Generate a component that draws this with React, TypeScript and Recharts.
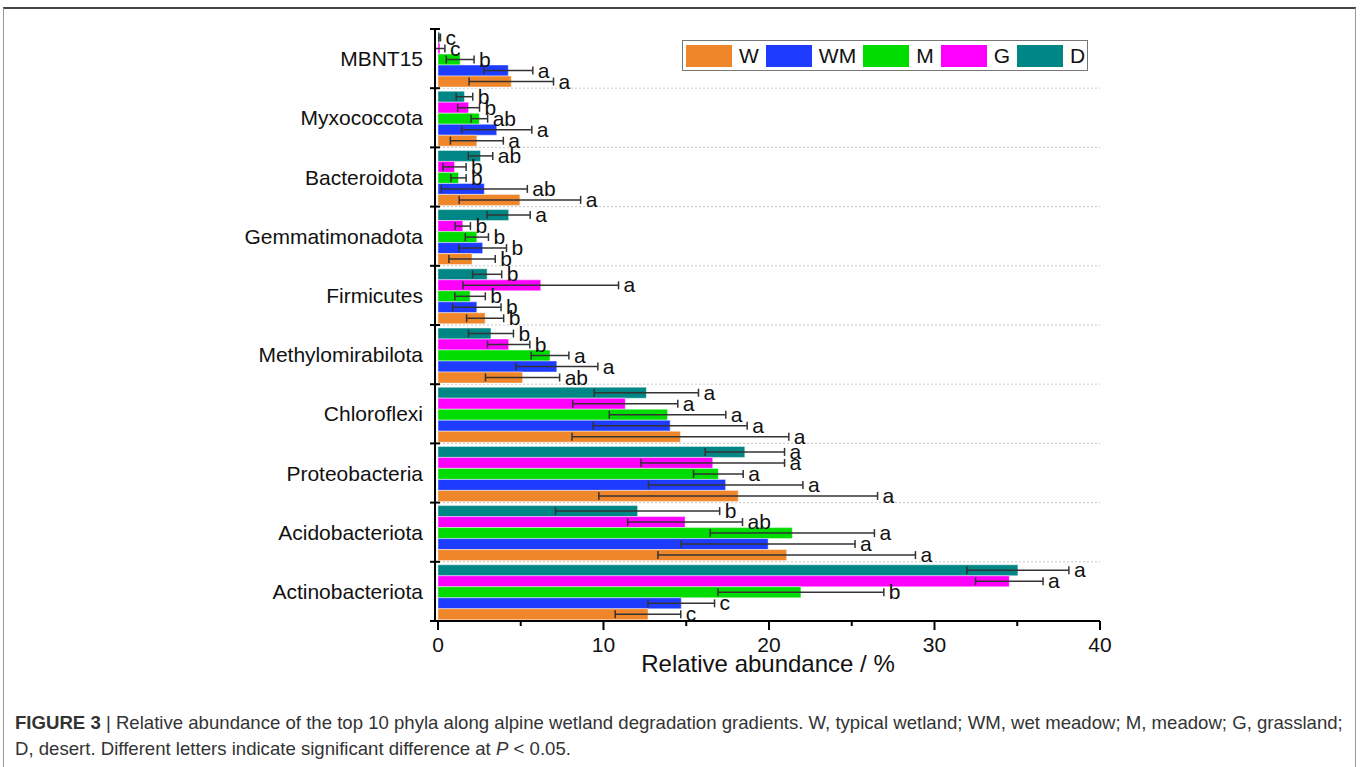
import React from 'react';
import { BarChart, Bar, XAxis, YAxis, CartesianGrid, ErrorBar, LabelList } from 'recharts';

const phyla = [
  'MBNT15',
  'Myxococcota',
  'Bacteroidota',
  'Gemmatimonadota',
  'Firmicutes',
  'Methylomirabilota',
  'Chloroflexi',
  'Proteobacteria',
  'Acidobacteriota',
  'Actinobacteriota',
];

// mean relative abundance (%) per site type
const W = [4.43, 2.35, 4.95, 2.06, 2.85, 5.11, 14.65, 18.14, 21.07, 12.69];
const WM = [4.25, 3.55, 2.8, 2.7, 2.35, 7.18, 14.03, 17.38, 19.95, 14.7];
const M = [1.34, 2.5, 1.24, 2.35, 1.94, 6.77, 13.87, 16.94, 21.41, 21.93];
const G = [0.12, 1.85, 1.0, 1.5, 6.21, 4.27, 11.32, 16.6, 14.93, 34.52];
const D = [0.1, 1.6, 2.57, 4.27, 2.97, 3.2, 12.59, 18.54, 12.06, 35.04];

// standard deviations
const W_SD = [2.55, 1.6, 3.67, 1.4, 1.12, 2.24, 6.55, 8.42, 7.78, 1.98];
const WM_SD = [1.48, 2.12, 2.6, 1.44, 1.46, 2.48, 4.65, 4.67, 5.25, 2.01];
const M_SD = [0.84, 0.5, 0.46, 0.7, 0.92, 1.14, 3.52, 1.5, 4.96, 5.01];
const G_SD = [0.3, 0.66, 0.7, 0.46, 4.7, 1.28, 3.17, 4.34, 3.47, 2.04];
const D_SD = [0.05, 0.5, 0.74, 1.3, 0.88, 1.36, 3.15, 2.4, 4.96, 3.08];

// significance letters
const W_SIG = ['a', 'a', 'a', 'b', 'b', 'ab', 'a', 'a', 'a', 'c'];
const WM_SIG = ['a', 'a', 'ab', 'b', 'b', 'a', 'a', 'a', 'a', 'c'];
const M_SIG = ['b', 'ab', 'b', 'b', 'b', 'a', 'a', 'a', 'a', 'b'];
const G_SIG = ['c', 'b', 'b', 'b', 'a', 'b', 'a', 'a', 'ab', 'a'];
const D_SIG = ['c', 'b', 'ab', 'a', 'b', 'b', 'a', 'a', 'b', 'a'];

const xTicks = [0, 5, 10, 15, 20, 25, 30, 35, 40];

const series = [
  { key: 'W', name: 'W', color: '#f0862a', values: W, sd: W_SD, sig: W_SIG },
  { key: 'WM', name: 'WM', color: '#1e3cff', values: WM, sd: WM_SD, sig: WM_SIG },
  { key: 'M', name: 'M', color: '#00dc00', values: M, sd: M_SD, sig: M_SIG },
  { key: 'G', name: 'G', color: '#ff00ff', values: G, sd: G_SD, sig: G_SIG },
  { key: 'D', name: 'D', color: '#008684', values: D, sd: D_SD, sig: D_SIG },
];

const data = phyla.map((name, i) => {
  const row: Record<string, string | number> = { name };
  series.forEach((s) => {
    row[s.key] = s.values[i];
    row[s.key + '_sd'] = s.sd[i];
    row[s.key + '_sig'] = s.sig[i];
  });
  return row;
});

// plot box
const CHART_W = 1360;
const CHART_H = 700;
const PLOT_LEFT = 435;
const PLOT_RIGHT = 1100;
const PLOT_TOP = 29;
const PLOT_BOTTOM = 621;
const HALF_BAND = (PLOT_BOTTOM - PLOT_TOP) / phyla.length / 2;

const FONT = '"Liberation Sans", Arial, Helvetica, sans-serif';

const CategoryTick = (props: any) => {
  const { x, y, payload, index } = props;
  const last = index === phyla.length - 1;
  return (
    <g>
      <text x={x - 12} y={y} textAnchor="end" dominantBaseline="central" fontSize={21} fill="#111">
        {payload.value}
      </text>
      <line x1={x - 5} x2={x + 5} y1={y - HALF_BAND} y2={y - HALF_BAND} stroke="#000" strokeWidth={2} />
      {last && <line x1={x - 5} x2={x + 5} y1={y + HALF_BAND} y2={y + HALF_BAND} stroke="#000" strokeWidth={2} />}
    </g>
  );
};

const ValueTick = (props: any) => {
  const { x, y, payload } = props;
  const major = payload.value % 10 === 0;
  return (
    <g>
      <line x1={x} x2={x} y1={y} y2={y + (major ? 9 : 5)} stroke="#000" strokeWidth={2} />
      {major && (
        <text x={x} y={y + 23} textAnchor="middle" dominantBaseline="central" fontSize={21} fill="#111">
          {payload.value}
        </text>
      )}
    </g>
  );
};

// letter placed just right of the error bar cap
const sigLabel = (values: number[], sd: number[]) => (props: any) => {
  const { x, y, width, height, value, index } = props;
  const v = values[index];
  const pxPerUnit = v > 0 ? width / v : 0;
  const capX = x + width + sd[index] * pxPerUnit;
  return (
    <text x={capX + 5} y={y + height / 2 + 7} fontSize={21} fill="#111">
      {value}
    </text>
  );
};

const LegendBox = () => (
  <div
    style={{
      position: 'absolute',
      left: 682,
      top: 40,
      height: 29,
      border: '1px solid #777',
      display: 'flex',
      alignItems: 'center',
      paddingLeft: 3,
      paddingRight: 2,
      background: '#fff',
      fontSize: 21,
      fontFamily: FONT,
    }}
  >
    {series.map((s, i) => (
      <div key={s.key} style={{ display: 'flex', alignItems: 'center', marginLeft: i === 0 ? 0 : 7 }}>
        <span style={{ display: 'inline-block', width: 46, height: 22, background: s.color }} />
        <span style={{ marginLeft: 7, color: '#111' }}>{s.name}</span>
      </div>
    ))}
  </div>
);

const App = () => {
  // top-to-bottom order inside each band is D, G, M, WM, W
  const drawOrder = [...series].reverse();
  return (
    <div
      style={{
        position: 'absolute',
        left: 0,
        top: 0,
        width: 1360,
        height: 767,
        background: '#fff',
        overflow: 'hidden',
        fontFamily: FONT,
      }}
    >
      <div
        style={{
          position: 'absolute',
          left: 3,
          top: 7,
          width: 1351,
          height: 800,
          borderTop: '2px solid #444',
          borderLeft: '1px solid #999',
          borderRight: '1px solid #999',
        }}
      />
      <div style={{ position: 'absolute', left: 0, top: 0 }}>
        <BarChart
          width={CHART_W}
          height={CHART_H}
          data={data}
          layout="vertical"
          margin={{ top: PLOT_TOP, right: CHART_W - PLOT_RIGHT, bottom: CHART_H - PLOT_BOTTOM - 60, left: 0 }}
          barCategoryGap={3}
          barGap={0}
        >
          <CartesianGrid
            vertical={false}
            stroke="#c8c8c8"
            strokeDasharray="2 2"
            horizontalCoordinatesGenerator={({ offset }: any) =>
              phyla.slice(1).map((_, i) => offset.top + ((i + 1) * offset.height) / phyla.length)
            }
          />
          <XAxis
            type="number"
            domain={[0, 40]}
            ticks={xTicks}
            interval={0}
            height={60}
            tickLine={false}
            tickSize={0}
            tickMargin={0}
            tick={<ValueTick />}
            axisLine={{ stroke: '#000', strokeWidth: 2 }}
          />
          <XAxis
            xAxisId="top"
            orientation="top"
            type="number"
            domain={[0, 40]}
            height={0}
            tick={false}
            tickLine={false}
            axisLine={{ stroke: '#000', strokeWidth: 2 }}
          />
          <YAxis
            type="category"
            dataKey="name"
            width={PLOT_LEFT}
            interval={0}
            tickLine={false}
            tickSize={0}
            tickMargin={0}
            tick={<CategoryTick />}
            axisLine={{ stroke: '#000', strokeWidth: 2 }}
          />
          <YAxis
            yAxisId="right"
            orientation="right"
            type="category"
            dataKey="name"
            width={0}
            tick={false}
            tickLine={false}
            axisLine={{ stroke: '#000', strokeWidth: 2 }}
          />
          {drawOrder.map((s) => (
            <Bar
              key={s.key}
              dataKey={s.key}
              name={s.name}
              fill={s.color}
              stroke="rgba(255,255,255,0.45)"
              strokeWidth={1}
              isAnimationActive={false}
            >
              <ErrorBar
                dataKey={s.key + '_sd'}
                direction="x"
                width={4}
                stroke="#333"
                strokeWidth={1.5}
                isAnimationActive={false}
              />
              <LabelList dataKey={s.key + '_sig'} content={sigLabel(s.values, s.sd)} />
            </Bar>
          ))}
        </BarChart>
      </div>
      <div
        style={{
          position: 'absolute',
          left: 768 - 200,
          top: 650,
          width: 400,
          textAlign: 'center',
          fontSize: 24,
          color: '#111',
          lineHeight: '28px',
        }}
      >
        Relative abundance / %
      </div>
      <LegendBox />
      <div
        style={{
          position: 'absolute',
          left: 15,
          top: 710,
          fontSize: 18.6,
          lineHeight: '26px',
          color: '#333',
          whiteSpace: 'nowrap',
        }}
      >
        <b>FIGURE 3</b> | Relative abundance of the top 10 phyla along alpine wetland degradation gradients. W, typical
        wetland; WM, wet meadow; M, meadow; G, grassland;
        <br />
        D, desert. Different letters indicate significant difference at <i>P</i> &lt; 0.05.
      </div>
    </div>
  );
};

export default App;
